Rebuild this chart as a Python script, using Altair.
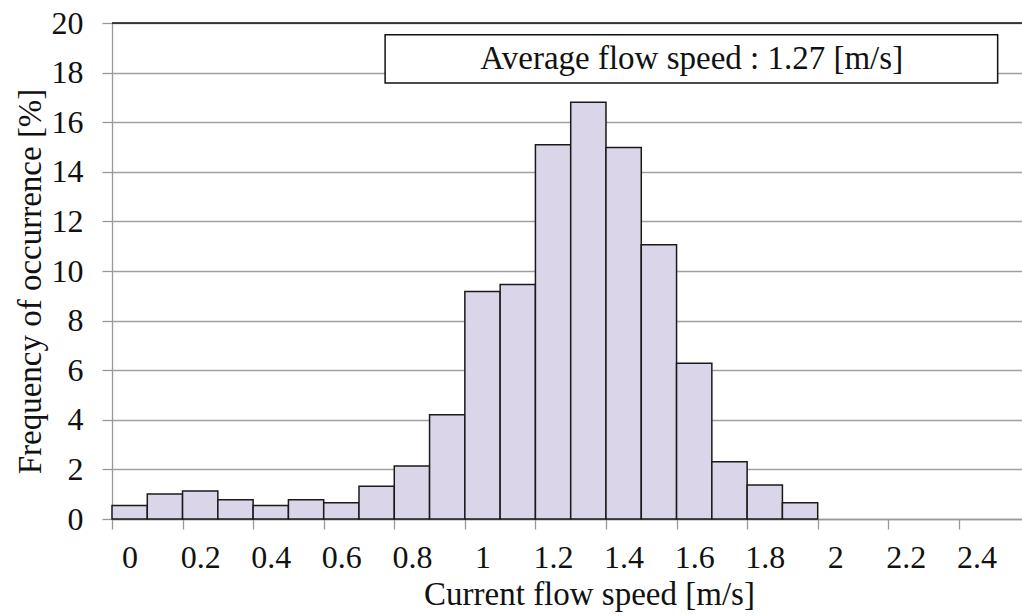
import altair as alt
import pandas as pd

# ---- data ----
speeds = [0.0, 0.1, 0.2, 0.3, 0.4, 0.5, 0.6, 0.7, 0.8, 0.9,
          1.0, 1.1, 1.2, 1.3, 1.4, 1.5, 1.6, 1.7, 1.8, 1.9,
          2.0, 2.1, 2.2, 2.3, 2.4]
frequency = [0.54, 1.01, 1.13, 0.78, 0.54, 0.78, 0.66, 1.32, 2.14, 4.20,
             9.17, 9.46, 15.09, 16.80, 14.98, 11.06, 6.28, 2.31, 1.37, 0.66,
             0.0, 0.0, 0.0, 0.0, 0.0]
y_ticks = [0, 2, 4, 6, 8, 10, 12, 14, 16, 18, 20]
annotation = ["Average flow speed : 1.27 [m/s]"]
x_title = "Current flow speed [m/s]"
y_title = "Frequency of occurrence [%]"

FONT = "Liberation Serif"
bin_w = 0.1
x_edges = [round(s - bin_w / 2, 2) for s in speeds] + [round(speeds[-1] + bin_w / 2, 2)]

df = pd.DataFrame({"speed": speeds, "freq": frequency})

x_scale = alt.Scale(domain=[-0.05, 2.529], nice=False, zero=False)
y_scale = alt.Scale(domain=[0, 20], nice=False)

bars = alt.Chart(df).transform_filter(
    "datum.freq > 0"
).transform_calculate(
    lo="datum.speed - 0.05", hi="datum.speed + 0.05"
).mark_rect(
    fill="#dad5e8", stroke="#1a1a1a", strokeWidth=1.5
).encode(
    x=alt.X("lo:Q", scale=x_scale, axis=alt.Axis(
        title=x_title, values=x_edges,
        labelExpr="round((datum.value + 0.05) * 10) % 2 == 0 ? format(round((datum.value + 0.05) * 10) / 10, '~g') : ''",
        labelOffset=17.6, labelOverlap=False, labelFlush=False, labelBound=False,
        labelFont=FONT, labelFontSize=32, labelColor="#111", labelPadding=13,
        tickColor="#999", tickSize=10, tickWidth=1.3,
        domainColor="#999", domainWidth=1.3, grid=False,
        titleFont=FONT, titleFontSize=33, titleFontWeight="normal", titleColor="#111",
        titlePadding=5, titleX=477)),
    x2="hi:Q",
    y=alt.Y("freq:Q", scale=y_scale, axis=alt.Axis(
        title=y_title, values=y_ticks, grid=True, gridColor="#a0a0a0", gridWidth=1.3,
        labelFont=FONT, labelFontSize=32, labelColor="#111", labelPadding=19,
        tickColor="#999", tickSize=10, tickWidth=1.3,
        domainColor="#999", domainWidth=1.3,
        titleFont=FONT, titleFontSize=33, titleFontWeight="normal", titleColor="#111",
        titlePadding=4, titleY=258)),
)

top_line = alt.Chart(pd.DataFrame({"v": [20]})).mark_rule(
    color="#111", strokeWidth=1.5
).encode(y=alt.Y("v:Q", scale=y_scale))

ann_df = pd.DataFrame({"label": annotation})
box = alt.Chart(ann_df).mark_rect(
    fill="white", stroke="#111", strokeWidth=1.5
).encode(
    x=alt.datum(0.724, scale=x_scale), x2=alt.datum(2.46),
    y=alt.datum(19.53, scale=y_scale), y2=alt.datum(17.58),
)
ann_text = alt.Chart(ann_df).mark_text(
    font=FONT, fontSize=33, color="#111", align="center", baseline="middle"
).encode(
    x=alt.datum(1.593, scale=x_scale), y=alt.datum(18.55, scale=y_scale),
    text="label:N",
)

chart = alt.layer(bars, top_line, box, ann_text).properties(
    width=910, height=496,
    autosize=alt.AutoSizeParams(type="none"),
    padding={"left": 112, "top": 23, "right": 0, "bottom": 97},
).configure_view(stroke=None).configure(background="white")

chart.save("out.html", embed_options={"renderer": "svg", "actions": False})
